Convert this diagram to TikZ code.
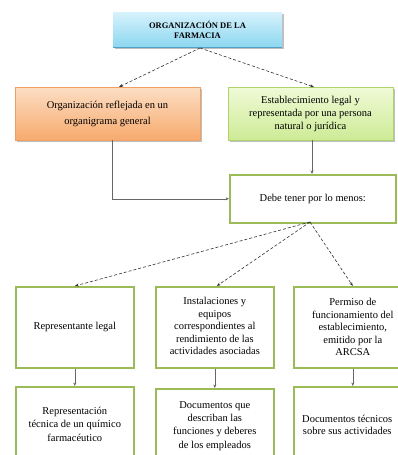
\documentclass[tikz,border=0pt]{standalone}
\usepackage{fontspec}
\setmainfont{Liberation Serif}
\usetikzlibrary{shadows,arrows.meta}
\definecolor{gline}{RGB}{155,187,89}
\definecolor{btop}{RGB}{215,242,252}
\definecolor{bbot}{RGB}{140,215,240}
\definecolor{bline}{RGB}{80,160,200}
\definecolor{otop}{RGB}{252,222,195}
\definecolor{obot}{RGB}{247,170,110}
\definecolor{oline}{RGB}{240,160,100}
\definecolor{ltop}{RGB}{240,250,215}
\definecolor{lbot}{RGB}{205,235,150}
\definecolor{lline}{RGB}{175,210,110}
\begin{document}
\begin{tikzpicture}[x=1pt,y=-1pt,
  txt/.style={font=\fontsize{10.5}{12.5}\selectfont, align=center, inner sep=0pt},
  gbox/.style={draw=gline, line width=1.6pt, fill=white},
  dasharrow/.style={densely dashed, -{Stealth[length=4pt,width=3pt]}, line width=0.6pt, black!80},
  solarrow/.style={-{Stealth[length=3.5pt,width=3pt]}, line width=0.6pt, black!60},
]
\useasboundingbox (0,0) rectangle (398,455);
\clip (0,0) rectangle (398,455);
\fill[white] (0,0) rectangle (398,455);

% top box
\fill[black!25] (115,14) rectangle (284,49);
\shade[top color=btop, bottom color=bbot] (113,12) rectangle (282,47);
\draw[bline, line width=0.8pt] (113,47) -- (282,47);
\node[txt, font=\fontsize{8.5}{10.5}\selectfont\bfseries] (top) at (197.5,30) {ORGANIZACIÓN DE LA\\FARMACIA};
\coordinate (topS) at (200,48);

% orange box
\fill[black!25] (17,89) rectangle (202,142);
\shade[top color=otop, bottom color=obot] (15,87) rectangle (200,140);
\draw[oline, line width=0.6pt] (15,87) rectangle (200,140);
\node[txt, font=\fontsize{10.5}{16}\selectfont] (org) at (107.5,114) {Organización reflejada en un\\organigrama general};
\coordinate (orgN) at (119,87);
\coordinate (orgS) at (112,140);

% green box
\fill[black!25] (230,89) rectangle (395,142);
\shade[top color=ltop, bottom color=lbot] (228,87) rectangle (393,140);
\draw[lline, line width=0.6pt] (228,87) rectangle (393,140);
\node[txt, font=\fontsize{10.5}{13}\selectfont] (est) at (310.5,114) {Establecimiento legal y\\representada por una persona\\natural o jurídica};
\coordinate (estN) at (314,87);
\coordinate (estS) at (312,140);

% debe box
\node[gbox, minimum width=166pt, minimum height=48pt, anchor=north west] (debe) at (229,174) {};
\node[txt] at (debe.center) {Debe tener por lo menos:};

% row 3
\node[gbox, minimum width=118pt, minimum height=81pt, anchor=north west] (rep) at (15,286) {};
\node[txt] at (rep.center) {Representante legal};
\node[gbox, minimum width=118pt, minimum height=81pt, anchor=north west] (ins) at (155,286) {};
\node[txt] at ([yshift=1pt]ins.center) {Instalaciones y\\equipos\\correspondientes al\\rendimiento de las\\actividades asociadas};
\node[gbox, minimum width=118pt, minimum height=81pt, anchor=north west] (per) at (293,286) {};
\node[txt] at (per.center) {Permiso de\\funcionamiento del\\establecimiento,\\emitido por la\\ARCSA};

% row 4
\node[gbox, minimum width=118pt, minimum height=90pt, anchor=north west] (rt) at (15,386) {};
\node[txt, font=\fontsize{10.5}{13.5}\selectfont] at ([yshift=-38pt]rt.north) {Representación\\técnica de un químico\\farmacéutico};
\node[gbox, minimum width=118pt, minimum height=90pt, anchor=north west] (doc) at (155,388) {};
\node[txt, font=\fontsize{10.5}{13.2}\selectfont] at ([yshift=-38pt]doc.north) {Documentos que\\describan las\\funciones y deberes\\de los empleados};
\node[gbox, minimum width=118pt, minimum height=90pt, anchor=north west] (dt) at (293,386) {};
\node[txt, font=\fontsize{10.5}{11.5}\selectfont, anchor=west] at ([xshift=9pt,yshift=-39pt]dt.north west) {Documentos técnicos\\sobre sus actividades};

% connectors
\draw[dasharrow] (topS) -- (orgN);
\draw[dasharrow] (topS) -- (estN);
\draw[solarrow] (orgS) |- (debe.west);
\draw[solarrow] (estS) -- (debe.north -| estS);
\coordinate (debeS) at (310,222);
\draw[dasharrow] (debeS) -- (rep.north);
\draw[dasharrow] (debeS) -- ([xshift=2pt]ins.north);
\draw[dasharrow] (debeS) -- (per.north);
\draw[solarrow] (rep.south) -- (rt.north);
\draw[solarrow] (ins.south) -- (doc.north);
\draw[solarrow] (per.south) -- (dt.north);
\end{tikzpicture}
\end{document}
